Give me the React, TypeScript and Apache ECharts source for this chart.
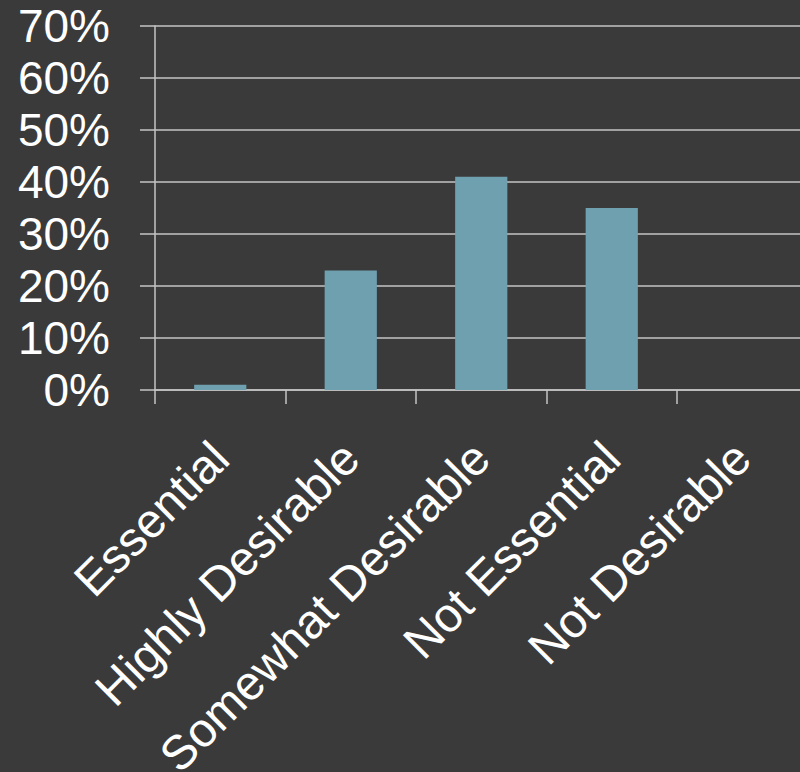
import React, { useEffect, useRef } from "react";
import * as echarts from "echarts";

const categories = ["Essential", "Highly Desirable", "Somewhat Desirable", "Not Essential", "Not Desirable"];
const values = [1, 23, 41, 35, 0];
const yTicks = [0, 10, 20, 30, 40, 50, 60, 70];

export default function App() {
  const ref = useRef<HTMLDivElement>(null);
  useEffect(() => {
    document.body.style.margin = "0";
    document.body.style.background = "#3a3a3a";
    const chart = echarts.init(ref.current!, null, { renderer: "svg" });
    const font = "'Liberation Sans', Arial, sans-serif";
    const lineColor = "#c4c4c4";
    chart.setOption({
      animation: false,
      backgroundColor: "#3a3a3a",
      grid: { left: 155, top: 26, height: 364, width: 652.5, containLabel: false, outerBoundsMode: "none" },
      xAxis: {
        type: "category",
        data: categories,
        axisLine: { show: true, lineStyle: { color: lineColor, width: 1.5 } },
        axisTick: { show: true, length: 14, lineStyle: { color: lineColor, width: 1.5 } },
        axisLabel: {
          rotate: 45,
          interval: 0,
          margin: 60,
          color: "#ffffff",
          fontSize: 48,
          fontFamily: font,
        },
      },
      yAxis: {
        type: "value",
        min: yTicks[0],
        max: yTicks[yTicks.length - 1],
        interval: 10,
        axisLine: { show: true, lineStyle: { color: lineColor, width: 1.5 } },
        axisTick: { show: true, length: 15, lineStyle: { color: lineColor, width: 1.5 } },
        splitLine: { show: true, lineStyle: { color: lineColor, width: 1.5 } },
        axisLabel: {
          margin: 45,
          color: "#ffffff",
          fontSize: 46,
          fontFamily: font,
          formatter: (v: number) => v + "%",
        },
      },
      series: [
        {
          type: "bar",
          data: values,
          barWidth: "40%",
          itemStyle: { color: "#6fa0b0", borderWidth: 0 },
        },
      ],
    });
    return () => chart.dispose();
  }, []);
  return <div ref={ref} style={{ width: 800, height: 772 }} />;
}
